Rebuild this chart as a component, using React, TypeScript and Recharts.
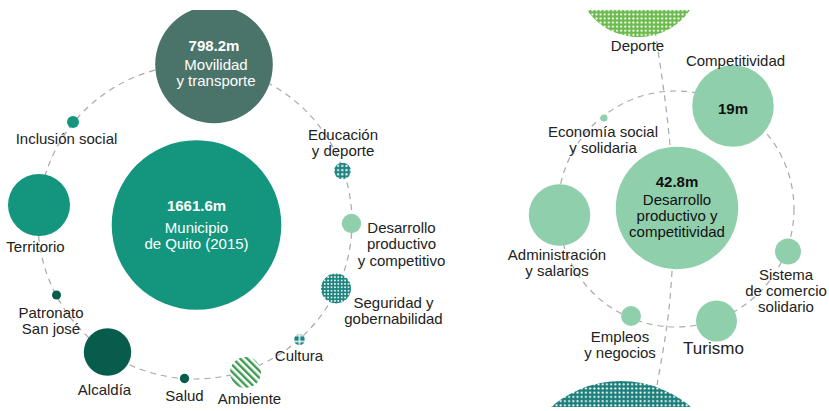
import React from 'react';
import { ScatterChart, Scatter, XAxis, YAxis, ZAxis } from 'recharts';

// Municipio de Quito 2015 (millones) - anillo izquierdo
const quitoAreas = [
  'Municipio\nde Quito (2015)',
  'Movilidad\ny transporte',
  'Inclusión social',
  'Territorio',
  'Patronato\nSan josé',
  'Alcaldía',
  'Salud',
  'Ambiente',
  'Cultura',
  'Seguridad y\ngobernabilidad',
  'Desarrollo\nproductivo\ny competitivo',
  'Educación\ny deporte',
];
const quitoMontos = [1661.6, 798.2, 8.3, 222, 4.7, 130, 5, 55, 7, 52, 21.7, 16];
const quitoX = [196.5, 214, 73, 39, 56.5, 107.5, 184.5, 245.5, 299.5, 336, 351.5, 342.5];
const quitoY = [225, 64.5, 122, 205, 295, 352, 378.5, 372.5, 339.5, 288.5, 223.5, 171];

// Desglose de desarrollo productivo - anillo derecho
const desarrolloAreas = [
  'Desarrollo\nproductivo y\ncompetitividad',
  'Competitividad',
  'Economía social\ny solidaria',
  'Administración\ny salarios',
  'Empleos\ny negocios',
  'Turismo',
  'Sistema\nde comercio\nsolidario',
  'Deporte',
  '',
];
const desarrolloMontos = [42.8, 19, 0.14, 10.8, 1.14, 4.8, 1.93, 44.8, 130.8];
const desarrolloX = [677, 733, 604, 559.5, 631, 716.5, 788, 638.5, 621];
const desarrolloY = [208, 106, 118, 215, 316, 321, 251.5, -25.6, 488];

// anillos punteados y el trazo que cruza el anillo derecho
const anilloX = [195, 676];
const anilloY = [222, 209];
const enlaceX = [655, 664, 670, 674, 672, 667, 657];
const enlaceY = [30, 92, 145, 210, 272, 325, 385];

const quitoData = quitoAreas.map((area, i) => ({ id: i, area, monto: quitoMontos[i], x: quitoX[i], y: quitoY[i] }));
const desarrolloData = desarrolloAreas.map((area, i) => ({
  id: i,
  area,
  monto: desarrolloMontos[i],
  x: desarrolloX[i],
  y: desarrolloY[i],
}));
const anilloData = anilloX.map((x, i) => ({ id: i, x, y: anilloY[i] }));
const enlaceData = enlaceX.map((x, i) => ({ x, y: enlaceY[i] }));

const FONT = '"Liberation Sans", Arial, Helvetica, sans-serif';
const DASH = '#a9a9a9';
const LINE = 16.3;

const quitoFill = [
  '#13967d',
  '#4a7369',
  '#13967d',
  '#13967d',
  '#075c4c',
  '#075c4c',
  '#075c4c',
  'url(#stripes)',
  'url(#grid)',
  'url(#dotsTeal)',
  '#8fcfac',
  'url(#dotsTealBig)',
];
const desarrolloFill = [
  '#90cfac',
  '#90cfac',
  '#90cfac',
  '#90cfac',
  '#90cfac',
  '#90cfac',
  '#90cfac',
  'url(#dotsGreen)',
  'url(#dotsBottom)',
];

type Lbl = { dx: number; dy: number; valueDy?: number; ink?: string; size?: number; hideName?: boolean };

const quitoLabels: Lbl[] = [
  { dx: 0, dy: 2, valueDy: -20, ink: '#ffffff' },
  { dx: 2, dy: -0.5, valueDy: -19.5, ink: '#ffffff' },
  { dx: -6.5, dy: 16 },
  { dx: -3.5, dy: 41.5 },
  { dx: -5.5, dy: 17.5 },
  { dx: -3, dy: 37 },
  { dx: 0, dy: 16.5 },
  { dx: 4, dy: 25.5 },
  { dx: -0.5, dy: 15.5 },
  { dx: 57.5, dy: 14 },
  { dx: 50, dy: 4 },
  { dx: 0.5, dy: -37 },
];
const desarrolloLabels: Lbl[] = [
  { dx: 0, dy: -9, valueDy: -27, ink: '#111111' },
  { dx: 2.5, dy: -45.5, valueDy: 2 },
  { dx: -1, dy: 13.5 },
  { dx: -2.5, dy: 39 },
  { dx: -11, dy: 20 },
  { dx: -3, dy: 27, size: 17 },
  { dx: -2, dy: 22.5 },
  { dx: -1, dy: 70.6 },
  { dx: 0, dy: 0, hideName: true },
];

const bubble = (fills: string[]) => (p: any) => {
  const r = p.width ? p.width / 2 : Math.sqrt(Math.max(p.size || 0, 0) / Math.PI);
  return <circle cx={p.cx} cy={p.cy} r={r} fill={fills[p.payload.id]} />;
};

const label = (layout: Lbl[], valueInk: string) => (p: any) => {
  const l = layout[p.payload.id];
  const ink = l.ink || '#222222';
  const names = l.hideName ? [] : String(p.payload.area).split('\n');
  return (
    <g fontFamily={FONT}>
      {l.valueDy !== undefined && (
        <text x={p.cx} y={p.cy + l.valueDy} textAnchor="middle" dominantBaseline="central" fontSize={15} fontWeight={700} fill={valueInk}>
          {`${p.payload.monto}m`}
        </text>
      )}
      {names.map((t, i) => (
        <text
          key={i}
          x={p.cx + l.dx}
          y={p.cy + l.dy + i * LINE}
          textAnchor="middle"
          dominantBaseline="central"
          fontSize={l.size || 15}
          fill={ink}
        >
          {t}
        </text>
      ))}
    </g>
  );
};

const RING_R = [157, 118];
const ring = (p: any) => (
  <circle cx={p.cx} cy={p.cy} r={RING_R[p.payload.id]} fill="none" stroke={DASH} strokeWidth={1.2} strokeDasharray="6 5" />
);

export default function App() {
  return (
    <div style={{ position: 'absolute', left: 0, top: 0, width: 829, height: 411, background: '#ffffff' }}>
      <svg width={0} height={0} style={{ position: 'absolute' }}>
        <defs>
          <pattern id="dotsTeal" width={3.4} height={3.4} patternUnits="userSpaceOnUse">
            <rect width={3.4} height={3.4} fill="#1e8580" />
            <rect x={0.9} y={0.9} width={1.6} height={1.6} fill="#ffffff" />
          </pattern>
          <pattern id="dotsTealBig" width={4.2} height={4.2} patternUnits="userSpaceOnUse">
            <rect width={4.2} height={4.2} fill="#1e8580" />
            <rect x={1.1} y={1.1} width={2} height={2} fill="#ffffff" />
          </pattern>
          <pattern id="grid" x={2.5} y={2.5} width={6} height={6} patternUnits="userSpaceOnUse">
            <rect width={6} height={6} fill="#1e8580" />
            <rect x={2.3} y={0} width={1.4} height={6} fill="#ffffff" />
            <rect x={0} y={2.3} width={6} height={1.4} fill="#ffffff" />
          </pattern>
          <pattern id="stripes" width={5} height={5} patternUnits="userSpaceOnUse" patternTransform="rotate(-45)">
            <rect width={5} height={5} fill="#ffffff" />
            <rect width={2.4} height={5} fill="#3a9a50" />
          </pattern>
          <pattern id="dotsGreen" width={4.1} height={4.1} patternUnits="userSpaceOnUse">
            <rect width={4.1} height={4.1} fill="#6dbb4e" />
            <circle cx={2} cy={2} r={1.05} fill="#ffffff" />
          </pattern>
          <pattern id="dotsBottom" width={4.2} height={4.2} patternUnits="userSpaceOnUse">
            <rect width={4.2} height={4.2} fill="#1d7f7b" />
            <circle cx={2.1} cy={2.1} r={1.05} fill="#ffffff" />
          </pattern>
        </defs>
      </svg>
      <ScatterChart width={829} height={411} margin={{ top: 10, right: 0, bottom: 4, left: 0 }}>
        <XAxis type="number" dataKey="x" domain={[0, 829]} hide allowDataOverflow />
        <YAxis type="number" dataKey="y" domain={[10, 407]} reversed hide allowDataOverflow />
        <ZAxis range={[64, 64]} />
        <ZAxis zAxisId="quito" type="number" dataKey="monto" domain={[0, 2000]} range={[0, 27200]} />
        <ZAxis zAxisId="desarrollo" type="number" dataKey="monto" domain={[0, 200]} range={[0, 55000]} />
        <Scatter data={anilloData} shape={ring} isAnimationActive={false} />
        <Scatter
          data={enlaceData}
          line={{ stroke: DASH, strokeWidth: 1.2, strokeDasharray: '6 5' }}
          lineJointType="natural"
          shape={() => <g />}
          isAnimationActive={false}
        />
        <Scatter data={quitoData} zAxisId="quito" shape={bubble(quitoFill)} isAnimationActive={false} />
        <Scatter data={desarrolloData} zAxisId="desarrollo" shape={bubble(desarrolloFill)} isAnimationActive={false} />
        <Scatter data={quitoData} zAxisId="quito" shape={label(quitoLabels, '#ffffff')} isAnimationActive={false} />
        <Scatter data={desarrolloData} zAxisId="desarrollo" shape={label(desarrolloLabels, '#111111')} isAnimationActive={false} />
      </ScatterChart>
    </div>
  );
}
